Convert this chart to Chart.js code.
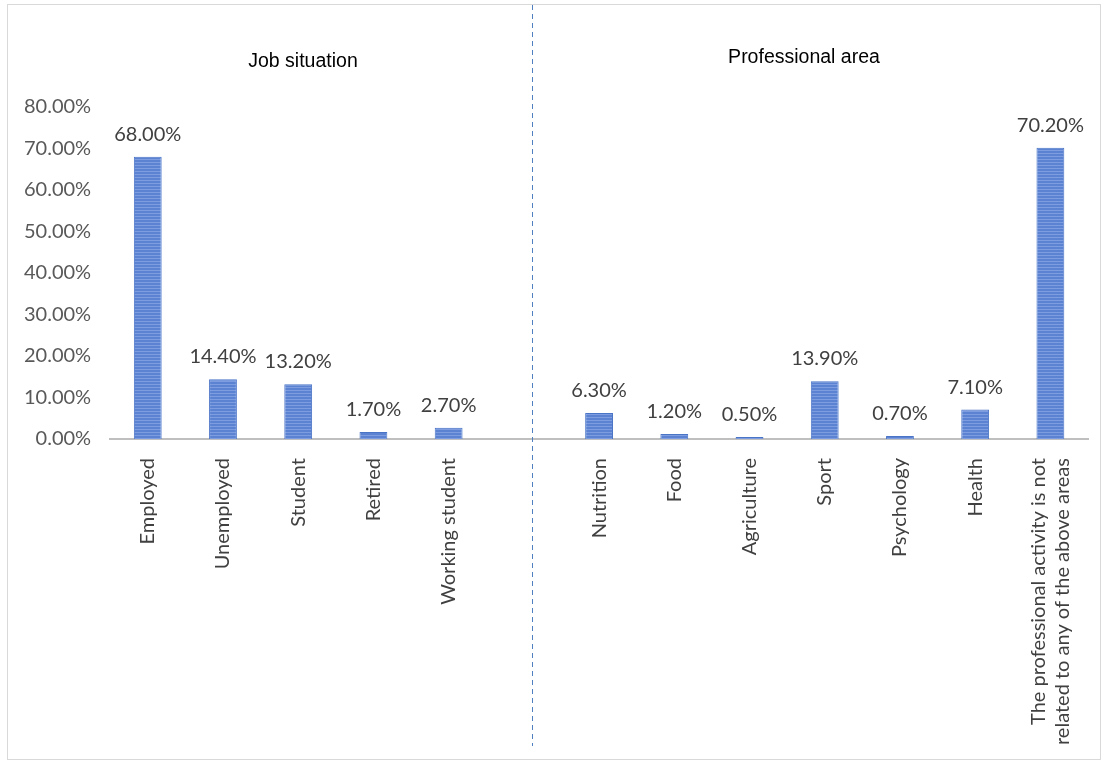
<!DOCTYPE html>
<html>
<head>
<meta charset="utf-8">
<script src="https://cdn.jsdelivr.net/npm/chart.js@4.4.1/dist/chart.umd.min.js"></script>
<style>
  html,body{margin:0;padding:0;background:#fff;}
  #wrap{position:relative;width:1104px;height:767px;}
  #frame{position:absolute;left:7px;top:4px;width:1092px;height:754px;border:1px solid #d9d9d9;pointer-events:none;}
</style>
</head>
<body>
<div id="wrap">
  <canvas id="c" width="1104" height="767"></canvas>
  <div id="frame"></div>
</div>
<script>
// ---- data ----
const jobCategories = ["Employed", "Unemployed", "Student", "Retired", "Working student"];
const jobValues = [68.0, 14.4, 13.2, 1.7, 2.7];
const areaCategories = ["Nutrition", "Food", "Agriculture", "Sport", "Psychology", "Health",
  ["The professional activity is not", "related to any of the above areas"]];
const areaValues = [6.3, 1.2, 0.5, 13.9, 0.7, 7.1, 70.2];
const groupTitles = ["Job situation", "Professional area"];
const yTicks = [0, 10, 20, 30, 40, 50, 60, 70, 80];

// combined with one empty slot separating the two groups
const labels = [...jobCategories, "", ...areaCategories];
const values = [...jobValues, null, ...areaValues];

// striped bar fill
function stripePattern() {
  const p = document.createElement('canvas');
  p.width = 4; p.height = 3;
  const g = p.getContext('2d');
  g.fillStyle = '#5b83d2'; g.fillRect(0, 0, 4, 3);
  g.fillStyle = '#7d9de0'; g.fillRect(0, 0, 4, 1);
  return g.createPattern(p, 'repeat');
}
const ctx = document.getElementById('c').getContext('2d');
const fill = stripePattern();

const X_FONT_SIZE = 20;

const extras = {
  id: 'extras',
  beforeDraw(chart) {
    // center multi-line rotated labels on their tick
    const xs = chart.scales.x;
    const items = xs.getLabelItems(chart.chartArea);
    items.forEach(it => {
      if (Array.isArray(it.label) && it.label.length > 1) {
        it.options.translation[0] -= (it.label.length - 1) * X_FONT_SIZE * 1.2 / 2;
      }
    });
  },
  afterDatasetsDraw(chart) {
    const c = chart.ctx;
    const meta = chart.getDatasetMeta(0);
    c.save();
    c.font = '20px Lato';
    c.fillStyle = '#404040';
    c.textAlign = 'center';
    c.textBaseline = 'alphabetic';
    meta.data.forEach((bar, i) => {
      const v = values[i];
      if (v === null) return;
      c.fillText(v.toFixed(2) + '%', bar.x, bar.y - 16);
    });
    // separator dashed line
    const xs = chart.scales.x;
    const sepX = xs.getPixelForValue(jobCategories.length) + 8;
    c.strokeStyle = '#4f7fbf';
    c.lineWidth = 1;
    c.setLineDash([5, 4]);
    c.beginPath();
    c.moveTo(Math.round(sepX) + 0.5, 5);
    c.lineTo(Math.round(sepX) + 0.5, 746);
    c.stroke();
    c.setLineDash([]);
    // group titles
    c.font = '19.5px "Liberation Sans"';
    c.fillStyle = '#000';
    c.textBaseline = 'middle';
    c.fillText(groupTitles[0], 303, 62);
    c.fillText(groupTitles[1], 804, 58);
    c.restore();
  }
};

new Chart(ctx, {
  type: 'bar',
  data: {
    labels: labels,
    datasets: [{
      data: values,
      backgroundColor: fill,
      borderColor: '#4a74c6',
      borderWidth: 1,
      barPercentage: 0.37,
      categoryPercentage: 1.0
    }]
  },
  options: {
    responsive: false,
    animation: false,
    layout: { padding: { top: 107, left: 5, right: 16, bottom: 3 } },
    plugins: { legend: { display: false }, tooltip: { enabled: false } },
    scales: {
      x: {
        afterFit(scale) { scale.paddingRight = 0; },
        grid: { display: false, drawTicks: false },
        border: { display: true, color: '#bfbfbf', width: 2 },
        ticks: {
          minRotation: 90, maxRotation: 90, autoSkip: false,
          color: '#404040', font: { family: 'Lato', size: X_FONT_SIZE }, padding: 19
        }
      },
      y: {
        min: 0, max: 80,
        afterBuildTicks(axis) { axis.ticks = yTicks.map(v => ({ value: v })); },
        grid: { display: false, drawTicks: false },
        border: { display: false },
        ticks: {
          color: '#595959', font: { family: 'Lato', size: 20 }, padding: 19,
          callback: v => v.toFixed(2) + '%'
        }
      }
    }
  },
  plugins: [extras]
});
</script>
</body>
</html>
